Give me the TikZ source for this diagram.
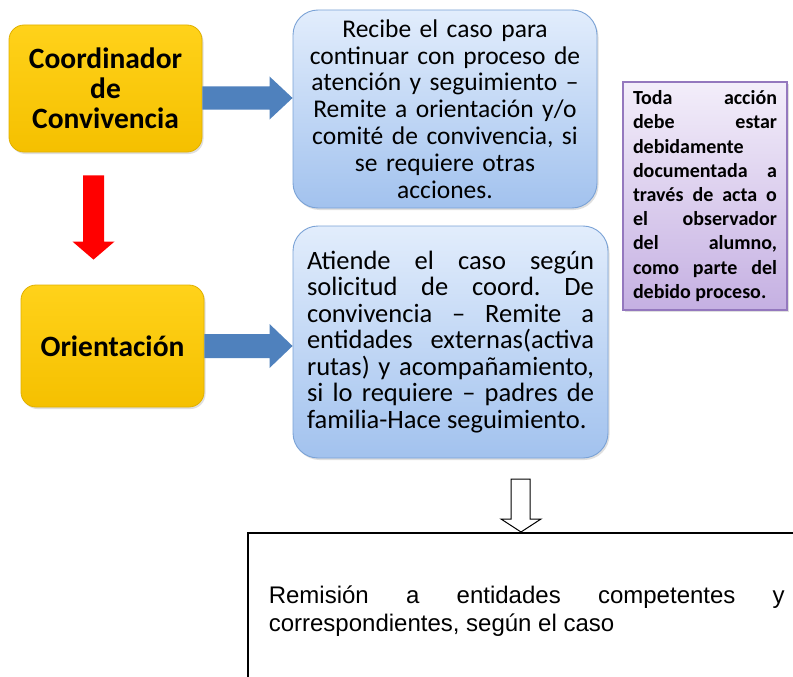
\documentclass[tikz,border=0pt]{standalone}
\usepackage{fontspec}
\setmainfont{Carlito}
\newfontfamily\arialf{Liberation Sans}
\usetikzlibrary{calc,shadows}
\newcommand\nohyph{\hyphenpenalty=10000 \tolerance=10000 \frenchspacing\relax}
\definecolor{ytop}{HTML}{FFD21A}
\definecolor{ybot}{HTML}{F5C000}
\definecolor{yborder}{HTML}{E0B000}
\definecolor{btop}{HTML}{E2EDFC}
\definecolor{bbot}{HTML}{A2C2EE}
\definecolor{bborder}{HTML}{7AA2D6}
\definecolor{ptop}{HTML}{F3EEFA}
\definecolor{pbot}{HTML}{C5B0E2}
\definecolor{pborder}{HTML}{9478BE}
\definecolor{arrowblue}{HTML}{4F81BD}
\definecolor{arrowred}{HTML}{FF0000}
\begin{document}
\begin{tikzpicture}[x=1pt,y=-1pt,
  ybox/.style={rounded corners=15pt, top color=ytop, bottom color=ybot, draw=yborder, line width=0.8pt,
    drop shadow={opacity=0.25, shadow xshift=1.5pt, shadow yshift=-2pt},
    align=center, inner sep=0pt, font=\bfseries\fontsize{29.5pt}{30pt}\selectfont},
  bbox/.style={rounded corners=25pt, top color=btop, bottom color=bbot, draw=bborder, line width=0.9pt,
    drop shadow={opacity=0.25, shadow xshift=1.5pt, shadow yshift=-2pt}, inner sep=0pt},
  pbox/.style={top color=ptop, bottom color=pbot, draw=pborder, line width=1.2pt,
    drop shadow={opacity=0.25, shadow xshift=1.5pt, shadow yshift=-2pt}},
]
\clip (0,0) rectangle (793,677);
\fill[white] (0,0) rectangle (793,677);

% yellow boxes
\node[ybox, minimum width=193pt, minimum height=127pt] (coord) at (105.5,88.5) {Coordinador\\de\\Convivencia};
\node[ybox, minimum width=183pt, minimum height=122pt] (orient) at (112.5,346) {Orientación};

% blue boxes
\node[bbox, minimum width=304pt, minimum height=198pt, text width=294pt, align=center,
  font=\fontsize{25.5pt}{26.8pt}\selectfont] (rec) at (445,109)
  {Recibe el caso para\\continuar con proceso de\\atención y seguimiento –\\Remite a orientación y/o\\comité de convivencia, si\\se requiere otras\\acciones.};
\node[bbox, minimum width=315pt, minimum height=232pt, text width=287pt, align=justify,
  font=\fontsize{26.5pt}{26.5pt}\selectfont] (ati) at (450.5,342)
  {\nohyph Atiende el caso según\linebreak solicitud de coord. De\linebreak convivencia – Remite a\linebreak entidades externas(activa\linebreak rutas) y acompañamiento,\linebreak si lo requiere – padres de\linebreak familia-Hace seguimiento.};

% purple note
\node[pbox, minimum width=164pt, minimum height=228pt, text width=144pt, inner xsep=10pt, inner ysep=6pt,
  align=justify, font=\bfseries\fontsize{20pt}{24.2pt}\selectfont] (nota) at (705,196)
  {\nohyph Toda acción\linebreak debe estar\linebreak debidamente\linebreak documentada a\linebreak través de acta o\linebreak el observador\linebreak del alumno,\linebreak como parte del\linebreak debido proceso.};

% bottom box
\node[draw=black, line width=1.6pt, anchor=north west, minimum height=156pt, text width=516pt,
  inner xsep=21pt, align=justify, font=\arialf\fontsize{24pt}{28pt}\selectfont] (rem) at (247,532)
  {\nohyph Remisión a entidades competentes y\linebreak correspondientes, según el caso};

% blue block arrows
\coordinate (a1) at ($(coord.east)+(0,9.5)$);
\fill[arrowblue] ($(a1)+(0,-11.5)$) -- ($(a1 -| rec.west)+(-23,-11.5)$) -- ++(0,-10) -- (a1 -| rec.west)
  -- ++(-23,21.5) -- ++(0,-10) -- ($(a1)+(0,11.5)$) -- cycle;
\coordinate (a2) at (orient.east);
\fill[arrowblue] ($(a2)+(0,-12)$) -- ($(a2 -| ati.west)+(-23,-12)$) -- ++(0,-10) -- (a2 -| ati.west)
  -- ++(-23,22) -- ++(0,-10) -- ($(a2)+(0,12)$) -- cycle;

% red arrow
\coordinate (r1) at ($(coord.south)+(-12,23)$);
\coordinate (r2) at ($(orient.north)+(-19,-25)$);
\fill[arrowred] ($(r1)+(-10.5,0)$) -- ($(r2)+(-10.5,-18)$) -- ++(-10.5,0) -- (r2)
  -- ++(21,-18) -- ++(-10.5,0) -- ($(r1)+(10.5,0)$) -- cycle;

% outline arrow
\coordinate (otip) at (rem.north -| 521,0);
\draw[fill=white, line width=1pt, line join=miter] (otip) -- ++(20,-13) -- ++(-11,0) -- ++(0,-40)
  -- ++(-19,0) -- ++(0,40) -- ++(-10,0) -- cycle;
\end{tikzpicture}
\end{document}
